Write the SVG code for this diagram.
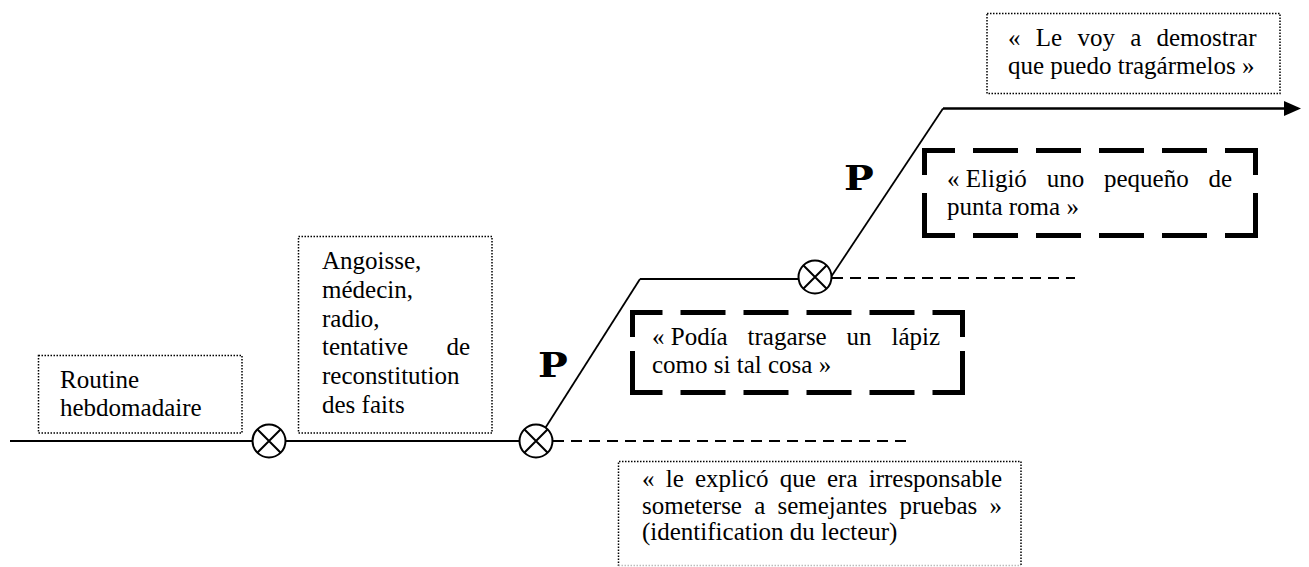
<svg xmlns="http://www.w3.org/2000/svg" width="1309" height="567" viewBox="0 0 1309 567">
<style>
.t{font-family:"Liberation Serif","Times New Roman",serif;font-size:25px;fill:#000}
.p{font-family:"DejaVu Serif",serif;font-weight:bold;font-size:33px;fill:#000}
.dot{fill:none;stroke:#000;stroke-width:1.5;stroke-dasharray:1.5 1.5}
.thick{fill:none;stroke:#000;stroke-width:5}
.ln{fill:none;stroke:#000}
.dash{fill:none;stroke:#000;stroke-width:2;stroke-dasharray:11 7}
.node circle{fill:#fff;stroke:#000;stroke-width:2}
.node path{stroke:#000;stroke-width:2;fill:none}
</style>
<g id="connectors">
  <path class="ln" d="M10 441 H536" stroke-width="2.2"/>
  <path class="ln" d="M537 441 L640 279" stroke-width="1.8"/>
  <path class="ln" d="M640 279 H815" stroke-width="2.2"/>
  <path class="ln" d="M831 277 L943 108.5" stroke-width="1.8"/>
  <path class="ln" d="M943 108.5 H1286" stroke-width="2.6"/>
  <polygon points="1284,101 1301,108.5 1284,116" fill="#000"/>
  <path class="dash" d="M553 441 H906"/>
  <path class="dash" d="M832 278 H1075"/>
</g>
<g id="node-x1" class="node">
  <circle cx="269" cy="441" r="16.5"/>
  <path d="M257.3 429.3 L280.7 452.7 M280.7 429.3 L257.3 452.7"/>
</g>
<g id="node-x2" class="node">
  <circle cx="536" cy="441" r="16.5"/>
  <path d="M524.3 429.3 L547.7 452.7 M547.7 429.3 L524.3 452.7"/>
</g>
<g id="node-x3" class="node">
  <circle cx="815" cy="277" r="16.5"/>
  <path d="M803.3 265.3 L826.7 288.7 M826.7 265.3 L803.3 288.7"/>
</g>
<g id="label-p1">
  <text class="p" transform="translate(538,377) scale(1.2,1)">P</text>
</g>
<g id="label-p2">
  <text class="p" transform="translate(844,190) scale(1.2,1)">P</text>
</g>
<g id="box-routine">
  <rect class="dot" x="38.5" y="355.5" width="203.5" height="77.5"/>
  <text class="t" x="60" y="388">Routine</text>
  <text class="t" x="60" y="416">hebdomadaire</text>
</g>
<g id="box-angoisse">
  <rect class="dot" x="298.5" y="236.5" width="193.5" height="196.5"/>
  <text class="t" x="322" y="269">Angoisse,</text>
  <text class="t" x="322" y="297.8">médecin,</text>
  <text class="t" x="322" y="326.6">radio,</text>
  <text class="t" y="355.4"><tspan x="322">tentative</tspan><tspan x="446.4">de</tspan></text>
  <text class="t" x="322" y="384.2">reconstitution</text>
  <text class="t" x="322" y="413">des faits</text>
</g>
<g id="box-podia">
  <path class="thick" d="M630 312.5 H965" stroke-dasharray="32.5 18 45 18 45 18 45 18 45 18 32.5"/>
  <path class="thick" d="M630 392.5 H965" stroke-dasharray="32.5 18 45 18 45 18 45 18 45 18 32.5"/>
  <path class="thick" d="M632.5 310 V395" stroke-dasharray="27 14 44"/>
  <path class="thick" d="M962.5 310 V395" stroke-dasharray="27 14 44"/>
  <text class="t" y="344.5"><tspan x="652">« Podía</tspan><tspan x="747.6">tragarse</tspan><tspan x="846.6">un</tspan><tspan x="891.5">lápiz</tspan></text>
  <text class="t" x="652" y="373">como si tal cosa »</text>
</g>
<g id="box-eligio">
  <path class="thick" d="M922 150.5 H1258" stroke-dasharray="33 18 45 18 45 18 45 18 45 18 33"/>
  <path class="thick" d="M922 235.5 H1258" stroke-dasharray="33 18 45 18 45 18 45 18 45 18 33"/>
  <path class="thick" d="M924.5 148 V238" stroke-dasharray="27 18 45"/>
  <path class="thick" d="M1255.5 148 V238" stroke-dasharray="27 18 45"/>
  <text class="t" y="187"><tspan x="947">« Eligió</tspan><tspan x="1046.7">uno</tspan><tspan x="1104">pequeño</tspan><tspan x="1208.5">de</tspan></text>
  <text class="t" x="947" y="215">punta roma »</text>
</g>
<g id="box-levoy">
  <rect class="dot" x="987" y="13.5" width="293" height="80"/>
  <text class="t" y="46"><tspan x="1008">«</tspan><tspan x="1035.8">Le</tspan><tspan x="1077.4">voy</tspan><tspan x="1130.2">a</tspan><tspan x="1156.5">demostrar</tspan></text>
  <text class="t" x="1008" y="73.5">que puedo tragármelos »</text>
</g>
<g id="box-lecteur">
  <path class="dot" d="M618.5 566 V461.5 H1021 V566"/>
  <path class="dot" d="M618.5 565.5 H1021" style="stroke:#bbb"/>
  <text class="t" y="487"><tspan x="642">«</tspan><tspan x="665.7">le</tspan><tspan x="694.9">explicó</tspan><tspan x="779.7">que</tspan><tspan x="827">era</tspan><tspan x="868.7">irresponsable</tspan></text>
  <text class="t" y="513.5"><tspan x="642">someterse</tspan><tspan x="754.2">a</tspan><tspan x="777.5">semejantes</tspan><tspan x="899.5">pruebas</tspan><tspan x="989.5">»</tspan></text>
  <text class="t" x="642" y="540">(identification du lecteur)</text>
</g>
</svg>
